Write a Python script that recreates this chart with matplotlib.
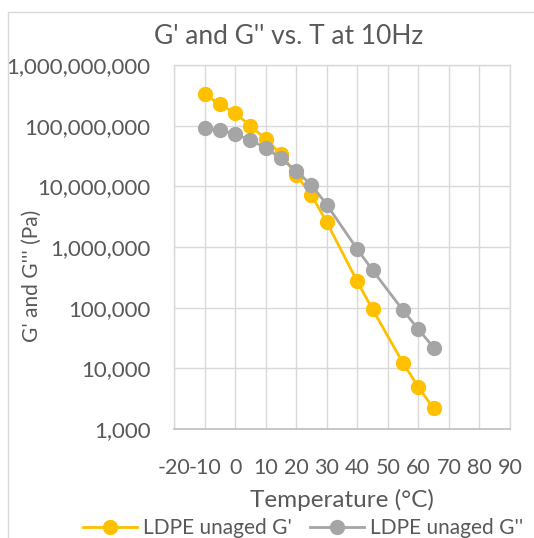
import matplotlib
matplotlib.use("Agg")
import matplotlib.pyplot as plt
from matplotlib.ticker import FuncFormatter, FixedLocator, NullLocator
from matplotlib.patches import Rectangle
from matplotlib.lines import Line2D

plt.rcParams["font.family"] = ["Lato", "DejaVu Sans"]
plt.rcParams["axes.unicode_minus"] = False

# Daten
temperatur = [-10, -5, 0, 5, 10, 15, 20, 25, 30, 40, 45, 55, 60, 65]
g_speicher = [3.3e8, 2.25e8, 1.6e8, 1.0e8, 6.0e7, 3.4e7, 1.54e7, 7.2e6,
              2.56e6, 2.7e5, 9.4e4, 1.22e4, 4.9e3, 2.18e3]
g_verlust = [9.1e7, 8.4e7, 7.3e7, 5.8e7, 4.3e7, 2.9e7, 1.8e7, 1.05e7,
             5.0e6, 9.2e5, 4.15e5, 9.0e4, 4.4e4, 2.2e4]
serien_namen = ["LDPE unaged G'", "LDPE unaged G''"]
x_ticks = [-20, -10, 0, 10, 20, 30, 40, 50, 60, 70, 80, 90]
y_ticks = [1e3, 1e4, 1e5, 1e6, 1e7, 1e8, 1e9]

W, H = 534, 538
gelb = "#FFC000"
grau = "#A5A5A5"
text_farbe = "#595959"
gitter = "#D9D9D9"

fig = plt.figure(figsize=(W / 100, H / 100), dpi=100)

def px(x, y):
    return x / W, 1 - y / H

# Rahmen des Diagrammbereichs (läuft über den Bildrand hinaus)
fig.patches.append(Rectangle(px(8, 600), 700 / W, 588 / H, transform=fig.transFigure,
                             fill=False, edgecolor=gitter, lw=1.0, clip_on=False))

left, top, right, bottom = 174, 65, 510, 429
ax = fig.add_axes([left / W, 1 - bottom / H, (right - left) / W, (bottom - top) / H])

ax.plot(temperatur, g_speicher, color=gelb, lw=2.0, marker="o", ms=10,
        label=serien_namen[0], zorder=3)
ax.plot(temperatur, g_verlust, color=grau, lw=2.0, marker="o", ms=10,
        label=serien_namen[1], zorder=4)

ax.set_yscale("log")
ax.set_ylim(1e3, 1e9)
ax.set_xlim(-20, 90)
ax.yaxis.set_major_locator(FixedLocator(y_ticks))
ax.yaxis.set_minor_locator(NullLocator())
ax.yaxis.set_major_formatter(FuncFormatter(lambda v, p: f"{v:,.0f}"))
ax.set_xticks(x_ticks)

ax.grid(True, color=gitter, lw=1.0)
ax.set_axisbelow(True)
for s in ["left", "top", "right"]:
    ax.spines[s].set_color(gitter)
    ax.spines[s].set_linewidth(1.0)
ax.spines["bottom"].set_color("#BFBFBF")
ax.spines["bottom"].set_linewidth(1.2)
ax.tick_params(length=0, labelcolor=text_farbe)
ax.tick_params(axis="y", pad=17, labelsize=16)
ax.tick_params(axis="x", pad=21, labelsize=15.5)

fig.text(*px(289, 37), "G' and G'' vs. T at 10Hz", ha="center", va="center",
         fontsize=19, color=text_farbe)
fig.text(*px(32, 276), "G' and G''' (Pa)", ha="center", va="center",
         rotation=90, fontsize=15, color=text_farbe)
fig.text(*px(342, 500), "Temperature (°C)", ha="center", va="center",
         fontsize=17.5, color=text_farbe)

handles = [Line2D([], [], color=gelb, lw=2.0, marker="o", ms=10),
           Line2D([], [], color=grau, lw=2.0, marker="o", ms=10)]
fig.legend(handles, serien_namen, loc="center", bbox_to_anchor=px(303, 528),
           ncol=2, frameon=False, fontsize=15, labelcolor=text_farbe,
           handlelength=2.6, handletextpad=0.3, columnspacing=0.85,
           borderpad=0, borderaxespad=0)

fig.savefig("out.png", dpi=100)
